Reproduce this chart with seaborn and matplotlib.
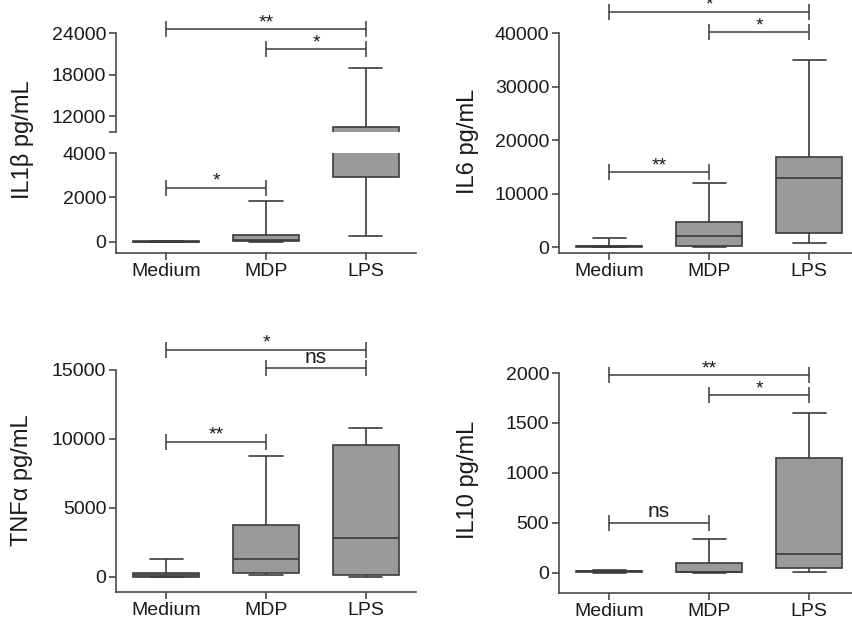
import numpy as np
import pandas as pd
import matplotlib
matplotlib.use("Agg")
import matplotlib.pyplot as plt
import seaborn as sns

sns.set_style("ticks")
plt.rcParams['font.family'] = ['Liberation Sans', 'DejaVu Sans']

groups = ["Medium", "MDP", "LPS"]

# five-number summaries: [whisker low, Q1, median, Q3, whisker high]
il1b_medium = [0, 0, 10, 20, 30]
il1b_mdp = [0, 20, 80, 330, 1820]
il1b_lps = [270, 2900, 6000, 10400, 19000]

il6_medium = [0, 50, 150, 300, 1750]
il6_mdp = [0, 300, 2000, 4750, 11900]
il6_lps = [800, 2700, 13000, 16900, 35000]

tnf_medium = [0, 20, 120, 280, 1260]
tnf_mdp = [100, 290, 1260, 3730, 8770]
tnf_lps = [0, 150, 2830, 9550, 10780]

il10_medium = [0, 2, 12, 20, 28]
il10_mdp = [0, 2, 6, 97, 338]
il10_lps = [10, 43, 188, 1147, 1603]

# significance brackets: (group a, group b, height, label)
il1b_brackets_upper = [(0, 2, 24570, "**"), (1, 2, 21700, "*")]
il1b_brackets_lower = [(0, 1, 2440, "*")]
il6_brackets = [(0, 2, 44000, "*"), (1, 2, 40100, "*"), (0, 1, 14000, "**")]
tnf_brackets = [(0, 2, 16470, "*"), (1, 2, 15120, "ns"), (0, 1, 9810, "**")]
il10_brackets = [(0, 2, 1980, "**"), (1, 2, 1780, "*"), (0, 1, 500, "ns")]


def make_df(a, b, c):
    return pd.DataFrame({"group": np.repeat(groups, 5),
                         "value": np.concatenate([a, b, c])})


BOX = "#9a9a9a"
EDGE = "#3c3c3c"
SPINE = "#4a4a4a"
TXT = "#1a1a1a"

W, H = 852, 622
fig = plt.figure(figsize=(W / 100, H / 100), dpi=100)


def axes_px(x0, y0, x1, y1):
    return fig.add_axes([x0 / W, 1 - y1 / H, (x1 - x0) / W, (y1 - y0) / H])


def draw_box(ax, df):
    sns.boxplot(data=df, x="group", y="value", order=groups, ax=ax,
                color=BOX, saturation=1, width=0.66, whis=(0, 100),
                linewidth=1.2, linecolor=EDGE, fliersize=0)
    ax.set_xlim(-0.5, 2.5)
    ax.set_xlabel("")
    ax.set_ylabel("")


def style(ax, bottom=True):
    for s in ["top", "right"]:
        ax.spines[s].set_visible(False)
    for s in ["left", "bottom"]:
        ax.spines[s].set_color(SPINE)
        ax.spines[s].set_linewidth(1.2)
    ax.tick_params(axis="y", labelsize=14, length=5, width=1.2,
                   color=SPINE, labelcolor=TXT, pad=2)
    ax.tick_params(axis="x", labelsize=14, length=5, width=1.2,
                   color=SPINE, labelcolor=TXT, pad=2.5)
    if not bottom:
        ax.spines["bottom"].set_visible(False)
        ax.tick_params(axis="x", bottom=False, labelbottom=False)


def brackets(ax, items):
    for a, b, y, lab in items:
        ax.plot([a, b], [y, y], color=SPINE, lw=1.2, clip_on=False)
        ax.plot([a, b], [y, y], ls="", marker="|", ms=11, mew=1.2,
                color=SPINE, clip_on=False)
        off = 1 if lab == "ns" else -1.5
        ax.annotate(lab, xy=((a + b) / 2, y), xytext=(0, off),
                    textcoords="offset points", ha="center", va="bottom",
                    fontsize=15 if lab == "ns" else 14, color=TXT,
                    annotation_clip=False)


# ---------- IL1b (broken axis) ----------
df1 = make_df(il1b_medium, il1b_mdp, il1b_lps)
ax1u = axes_px(116, 33, 416, 132)
ax1l = axes_px(116, 153, 416, 253)
draw_box(ax1u, df1)
draw_box(ax1l, df1)
ax1u.set_ylim(9700, 24000)
ax1u.set_yticks([12000, 18000, 24000])
ax1u.set_yticks([9700], minor=True)
ax1u.tick_params(axis="y", which="minor", length=5, width=1.2, color=SPINE)
ax1l.set_ylim(-500, 4000)
ax1l.set_yticks([0, 2000, 4000])
style(ax1u, bottom=False)
style(ax1l)
brackets(ax1u, il1b_brackets_upper)
brackets(ax1l, il1b_brackets_lower)
fig.text(22 / W, 1 - 140 / H, "IL1β pg/mL", rotation=90, ha="center",
         va="center", fontsize=17, color=TXT)

# ---------- IL6 ----------
ax2 = axes_px(559, 33, 859, 253)
draw_box(ax2, make_df(il6_medium, il6_mdp, il6_lps))
ax2.set_ylim(-1100, 40000)
ax2.set_yticks([0, 10000, 20000, 30000, 40000])
style(ax2)
brackets(ax2, il6_brackets)
fig.text(468 / W, 1 - 141 / H, "IL6 pg/mL", rotation=90, ha="center",
         va="center", fontsize=17, color=TXT)

# ---------- TNFa ----------
ax3 = axes_px(116, 370, 416, 592)
draw_box(ax3, make_df(tnf_medium, tnf_mdp, tnf_lps))
ax3.set_ylim(-1100, 15000)
ax3.set_yticks([0, 5000, 10000, 15000])
style(ax3)
brackets(ax3, tnf_brackets)
fig.text(22 / W, 1 - 480 / H, "TNFα pg/mL", rotation=90, ha="center",
         va="center", fontsize=17, color=TXT)

# ---------- IL10 ----------
ax4 = axes_px(559, 373, 859, 593)
draw_box(ax4, make_df(il10_medium, il10_mdp, il10_lps))
ax4.set_ylim(-205, 2000)
ax4.set_yticks([0, 500, 1000, 1500, 2000])
style(ax4)
brackets(ax4, il10_brackets)
fig.text(468 / W, 1 - 480 / H, "IL10 pg/mL", rotation=90, ha="center",
         va="center", fontsize=17, color=TXT)

fig.savefig("out.png", dpi=100)
